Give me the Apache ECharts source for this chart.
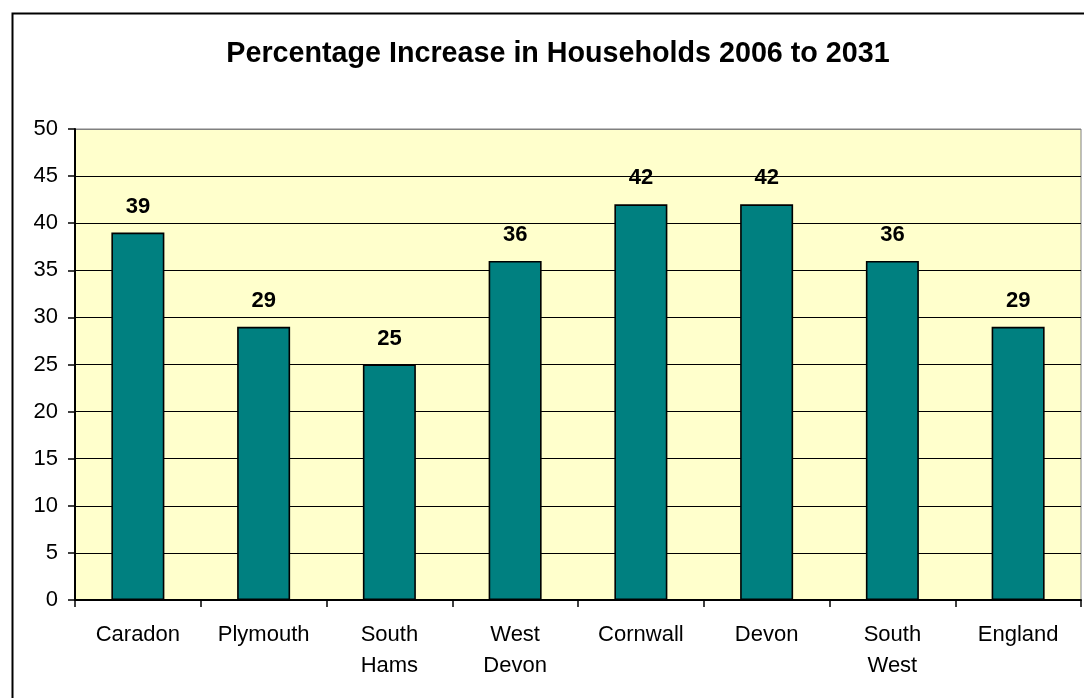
<!DOCTYPE html>
<html>
<head>
<meta charset="utf-8">
<title>Percentage Increase in Households 2006 to 2031</title>
<script src="https://cdn.jsdelivr.net/npm/echarts@6/dist/echarts.min.js"></script>
<style>
  html, body { margin: 0; padding: 0; background: #ffffff; }
  #chart { width: 1084px; height: 698px; }
</style>
</head>
<body>
<div id="chart"></div>
<script>
// Household growth by area, 2006 to 2031 (%)
const areas = ['Caradon', 'Plymouth', 'South\nHams', 'West\nDevon', 'Cornwall', 'Devon', 'South\nWest', 'England'];
const increase = [39, 29, 25, 36, 42, 42, 36, 29];
const yTicks = { min: 0, max: 50, step: 5 };

const FONT = '"Liberation Sans", Arial, sans-serif';

// Gridlines are black except the top one, which sits on the grey plot border
const gridCount = (yTicks.max - yTicks.min) / yTicks.step + 1;
const gridColors = [];
for (let i = 0; i < gridCount; i++) gridColors.push(i === gridCount - 1 ? '#808080' : '#000000');

const chart = echarts.init(document.getElementById('chart'), null, { renderer: 'canvas' });

chart.setOption({
  animation: false,
  backgroundColor: '#ffffff',
  title: {
    text: 'Percentage Increase in Households 2006 to 2031',
    left: 553,
    textAlign: 'center',
    top: 35,
    textStyle: { fontFamily: FONT, fontSize: 28.7, fontWeight: 'bold', color: '#000000' }
  },
  graphic: [{
    type: 'rect',
    left: 10, top: 11,
    shape: { width: 1100, height: 720 },
    style: { fill: 'none', stroke: '#000000', lineWidth: 2 },
    z: 100
  }],
  grid: {
    left: 75, right: 3, top: 129, bottom: 98,
    show: true,
    backgroundColor: '#FFFFCC',
    borderColor: '#808080',
    borderWidth: 1
  },
  xAxis: {
    type: 'category',
    data: areas,
    axisLine: { show: true, lineStyle: { color: '#000000', width: 2 } },
    axisTick: { show: true, alignWithLabel: false, length: 7, lineStyle: { color: '#000000', width: 1.5 } },
    axisLabel: {
      fontFamily: FONT, fontSize: 22, color: '#000000',
      lineHeight: 31, margin: 19, interval: 0
    },
    splitLine: { show: false }
  },
  yAxis: {
    type: 'value',
    min: yTicks.min, max: yTicks.max, interval: yTicks.step,
    axisLine: { show: true, lineStyle: { color: '#000000', width: 2 } },
    axisTick: { show: true, length: 7, lineStyle: { color: '#000000', width: 1.5 } },
    axisLabel: { fontFamily: FONT, fontSize: 22, color: '#000000', margin: 17 },
    splitLine: { show: true, lineStyle: { color: gridColors, width: 1.2 } }
  },
  series: [{
    type: 'bar',
    data: increase,
    barWidth: 53,
    itemStyle: { color: '#008080', borderColor: '#000000', borderWidth: 1.6 },
    label: {
      show: true, position: 'top', distance: 15,
      fontFamily: FONT, fontSize: 22, fontWeight: 'bold', color: '#000000'
    }
  }]
});
</script>
</body>
</html>
